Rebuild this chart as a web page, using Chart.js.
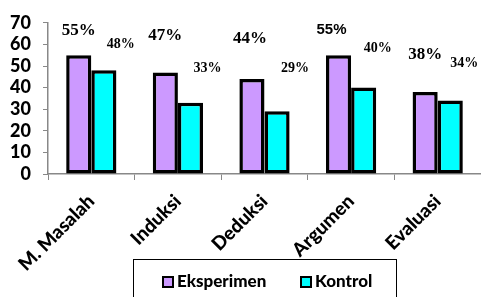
<!DOCTYPE html>
<html>
<head>
<meta charset="utf-8">
<script src="https://cdn.jsdelivr.net/npm/chart.js@4/dist/chart.umd.min.js"></script>
<style>
  html, body { margin: 0; padding: 0; background: #fff; }
  #wrap { width: 481px; height: 297px; position: relative; }
</style>
</head>
<body>
<div id="wrap"><canvas id="myChart1"></canvas></div>
<script>
const categories = ['M. Masalah', 'Induksi', 'Deduksi', 'Argumen', 'Evaluasi'];
const eksperimen = [55, 47, 44, 55, 38];
const kontrol = [48, 33, 29, 40, 34];
const yTicks = [0, 10, 20, 30, 40, 50, 60, 70];

// label placement relative to bar top (dx, dy), only styling
const labelOffsets = [
  [[0, -25], [0, -37], [-2, -40], [-7, -25], [0, -37]],
  [[17, -26], [17, -34], [18, -43], [14, -39], [14, -37]]
];

const labelPlugin = {
  id: 'pctLabels',
  afterDatasetsDraw(chart) {
    const c = chart.ctx;
    c.save();
    c.fillStyle = '#000';
    c.textAlign = 'center';
    c.textBaseline = 'middle';
    chart.data.datasets.forEach((ds, i) => {
      chart.getDatasetMeta(i).data.forEach((bar, j) => {
        const off = labelOffsets[i][j];
        if (i === 0 && j === 3) c.font = 'bold 15px "Liberation Sans"';
        else if (i === 0) c.font = 'bold 17px "Liberation Serif"';
        else c.font = 'bold 14px "Liberation Serif"';
        c.fillText(ds.data[j] + '%', bar.x + off[0], bar.y + off[1]);
      });
    });
    c.restore();
  }
};

const legendPlugin = {
  id: 'boxLegend',
  afterDraw(chart) {
    const c = chart.ctx;
    c.save();
    c.fillStyle = '#fff';
    c.fillRect(133, 259, 263, 40);
    c.strokeStyle = '#000';
    c.lineWidth = 1;
    c.strokeRect(133.5, 259.5, 263, 40);
    c.font = '900 17px Lato';
    c.textBaseline = 'middle';
    c.textAlign = 'left';
    const items = [
      { x: 163, label: 'Eksperimen', ds: 0 },
      { x: 301, label: 'Kontrol', ds: 1 }
    ];
    items.forEach(it => {
      c.fillStyle = chart.data.datasets[it.ds].backgroundColor;
      c.fillRect(it.x, 277, 10, 10);
      c.lineWidth = 2;
      c.strokeRect(it.x, 277, 10, 10);
      c.fillStyle = '#000';
      c.fillText(it.label, it.x + 14, 282);
    });
    c.restore();
  }
};

new Chart(document.getElementById('myChart1'), {
  type: 'bar',
  data: {
    labels: categories,
    datasets: [{
      label: 'Eksperimen',
      data: eksperimen,
      backgroundColor: '#CC99FF',
      borderColor: '#000',
      borderWidth: 3.5,
      borderSkipped: false
    }, {
      label: 'Kontrol',
      data: kontrol,
      backgroundColor: '#00FFFF',
      borderColor: '#000',
      borderWidth: 3.5,
      borderSkipped: false
    }]
  },
  options: {
    responsive: true,
    maintainAspectRatio: false,
    animation: false,
    categoryPercentage: 0.58,
    barPercentage: 1.0,
    layout: { padding: { top: 20, right: 0, left: 0, bottom: 0 } },
    plugins: {
      legend: { display: false },
      tooltip: { enabled: false }
    },
    scales: {
      x: {
        grid: { drawOnChartArea: false, color: '#888', tickLength: 6, offset: true },
        border: { color: '#888', width: 1.5 },
        ticks: {
          color: '#000',
          font: { family: 'Lato', weight: '900', size: 19 },
          minRotation: 45,
          maxRotation: 45,
          padding: 10,
          autoSkip: false
        },
        afterFit: (s) => { s.height = 123; }
      },
      y: {
        min: 0,
        max: 70,
        afterBuildTicks: (s) => { s.ticks = yTicks.map(v => ({ value: v })); },
        grid: { drawOnChartArea: false, color: '#888', tickLength: 5 },
        border: { color: '#888', width: 1.5 },
        ticks: {
          color: '#000',
          font: { family: 'Lato', weight: '900', size: 18 },
          padding: 12,
          autoSkip: false
        },
        afterFit: (s) => { s.width = 48; }
      }
    }
  },
  plugins: [labelPlugin, legendPlugin]
});
</script>
</body>
</html>
